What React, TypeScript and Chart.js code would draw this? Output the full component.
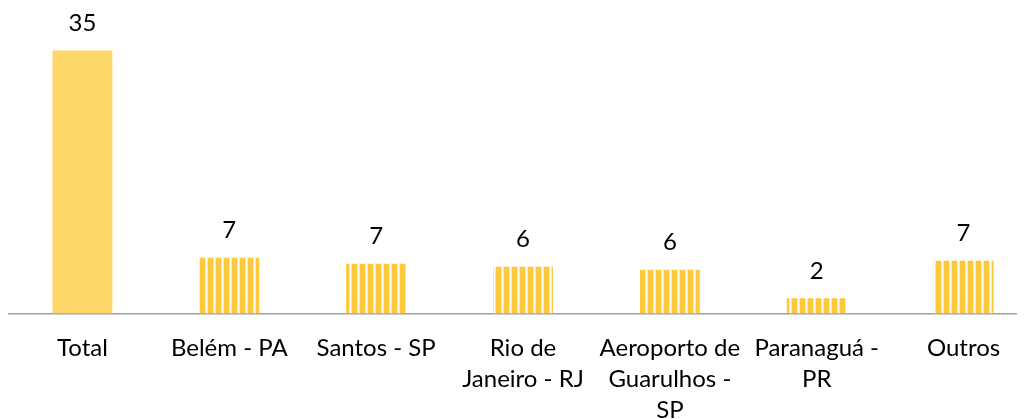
import React, { useEffect, useRef } from "react";
import { Chart, registerables } from "chart.js";

Chart.register(...registerables);

const categories: string[][] = [
  ["Total"],
  ["Belém - PA"],
  ["Santos - SP"],
  ["Rio de", "Janeiro - RJ"],
  ["Aeroporto de", "Guarulhos -", "SP"],
  ["Paranaguá -", "PR"],
  ["Outros"],
];
const values: number[] = [34.9, 7.4, 6.6, 6.2, 5.8, 2.0, 7.0];
const displayLabels: string[] = ["35", "7", "7", "6", "6", "2", "7"];

const FONT = "Lato";
const SOLID = "#FDD869";
const STRIPE = "#FDC83A";

function makePattern(): CanvasPattern | string {
  const c = document.createElement("canvas");
  c.width = 8;
  c.height = 4;
  const ctx = c.getContext("2d");
  if (!ctx) return STRIPE;
  const cols = [STRIPE, STRIPE, STRIPE, STRIPE, STRIPE, "#FEE7A0", "#FFFFFF", "#FEE7A0"];
  cols.forEach((col, i) => {
    ctx.fillStyle = col;
    ctx.fillRect(i, 0, 1, 4);
  });
  return ctx.createPattern(c, "repeat") || STRIPE;
}

const valueLabelPlugin = {
  id: "valueLabels",
  afterDatasetsDraw(chart: any) {
    const ctx = chart.ctx;
    const meta = chart.getDatasetMeta(0);
    ctx.save();
    ctx.font = `24px ${FONT}`;
    ctx.fillStyle = "#000000";
    ctx.textAlign = "center";
    ctx.textBaseline = "middle";
    meta.data.forEach((bar: any, i: number) => {
      ctx.fillText(displayLabels[i], bar.x, bar.y - 27);
    });
    ctx.restore();
  },
};

export default function App() {
  const ref = useRef<HTMLCanvasElement>(null);
  useEffect(() => {
    if (!ref.current) return;
    const pattern = makePattern();
    const colors = values.map((_, i) => (i === 0 ? SOLID : pattern));
    const chart = new Chart(ref.current, {
      type: "bar",
      data: {
        labels: categories,
        datasets: [
          {
            data: values,
            backgroundColor: colors as any,
            borderWidth: 0,
            categoryPercentage: 1,
            barPercentage: 0.408,
          },
        ],
      },
      options: {
        responsive: false,
        animation: false,
        layout: { padding: { left: 1, right: 2, top: 4, bottom: 0 } },
        plugins: { legend: { display: false }, tooltip: { enabled: false } },
        scales: {
          x: {
            grid: { display: false, drawTicks: false },
            border: { display: true, color: "#A0A0A0", width: 1.5 },
            ticks: {
              color: "#000000",
              font: { family: FONT, size: 24, lineHeight: 1.3 },
              padding: 19,
              maxRotation: 0,
              autoSkip: false,
            },
          },
          y: { display: false, min: 0, max: 40 },
        },
      },
      plugins: [valueLabelPlugin],
    });
    return () => chart.destroy();
  }, []);
  return (
    <div style={{ width: 1017, height: 411, overflow: "hidden" }}>
      <canvas ref={ref} width={1031} height={437} style={{ display: "block" }} />
    </div>
  );
}
